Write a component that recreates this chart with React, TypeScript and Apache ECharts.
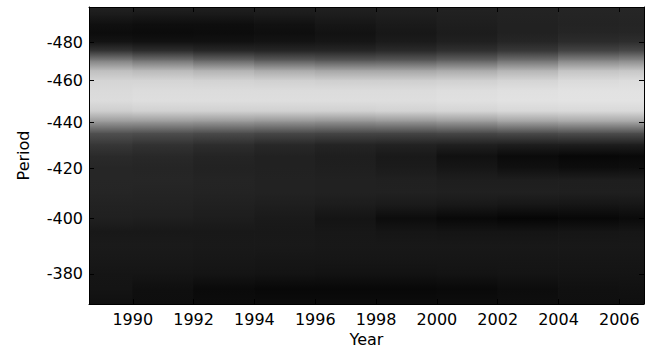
import React, { useEffect, useRef } from "react";
import * as echarts from "echarts";

// Heat-map columns (year centres) and rows (period, in the same units as the axis)
const years = [1989, 1991, 1993, 1995, 1997, 1999, 2001, 2003, 2005, 2007];
const periods = [
  -500, -495, -490, -485, -480, -475, -470, -465, -460, -455, -450, -445, -440,
  -435, -430, -425, -420, -415, -410, -405, -400, -395, -390, -385, -380, -375, -370,
];

// Relative power (0-255 gray scale) for each period row, one value per year column
const intensity: number[][] = [
  [34, 33, 32, 32, 32, 33, 34, 35, 37, 38],
  [26, 24, 24, 26, 28, 30, 32, 34, 36, 37],
  [16, 14, 14, 17, 22, 26, 30, 33, 35, 36],
  [12, 11, 12, 14, 18, 23, 28, 33, 37, 38],
  [20, 18, 18, 20, 22, 27, 32, 38, 44, 46],
  [55, 48, 42, 40, 40, 44, 50, 58, 70, 75],
  [130, 118, 105, 95, 90, 92, 100, 115, 135, 140],
  [190, 185, 178, 170, 165, 165, 170, 180, 195, 198],
  [212, 212, 210, 208, 206, 206, 208, 212, 218, 220],
  [218, 220, 220, 220, 220, 220, 222, 224, 226, 226],
  [220, 222, 222, 222, 222, 222, 224, 226, 227, 227],
  [205, 208, 208, 208, 208, 210, 212, 215, 216, 216],
  [150, 150, 148, 145, 142, 145, 150, 158, 162, 162],
  [80, 78, 75, 72, 70, 70, 72, 75, 78, 78],
  [55, 50, 45, 40, 36, 34, 32, 30, 30, 30],
  [42, 40, 36, 33, 30, 25, 16, 10, 7, 8],
  [38, 37, 34, 33, 31, 27, 22, 16, 13, 14],
  [38, 38, 36, 34, 33, 32, 30, 30, 30, 30],
  [37, 36, 35, 34, 33, 33, 32, 32, 31, 31],
  [34, 34, 32, 30, 28, 26, 24, 22, 21, 22],
  [32, 31, 29, 26, 20, 12, 8, 5, 7, 10],
  [24, 24, 24, 24, 23, 21, 20, 20, 21, 22],
  [26, 26, 25, 25, 24, 24, 24, 24, 24, 24],
  [24, 24, 23, 22, 22, 22, 22, 22, 22, 22],
  [21, 21, 20, 19, 18, 18, 19, 20, 20, 20],
  [20, 15, 10, 8, 8, 8, 9, 12, 16, 17],
  [16, 14, 12, 12, 12, 12, 13, 14, 15, 15],
];

const xTickYears = [1990, 1992, 1994, 1996, 1998, 2000, 2002, 2004, 2006];
const yTickPeriods = [-480, -460, -440, -420, -400, -380];

const X_MIN = 1988.56;
const X_MAX = 2006.81;

const freq = (p: number) => 1 / Math.abs(p);
const gray = (v: number) => {
  const g = Math.max(0, Math.min(255, Math.round(v)));
  return `rgb(${g},${g},${g})`;
};

export default function App() {
  const ref = useRef<HTMLDivElement>(null);

  useEffect(() => {
    if (!ref.current) return;
    const chart = echarts.init(ref.current, null, { renderer: "svg" });

    const data: number[][] = [];
    for (let i = 0; i < periods.length - 1; i++) {
      for (let j = 0; j < years.length; j++) {
        data.push([years[j], (freq(periods[i]) + freq(periods[i + 1])) / 2, i, j]);
      }
    }

    const colEdge = (j: number, side: number) => {
      if (side < 0) {
        return j === 0 ? years[0] - (years[1] - years[0]) / 2 : (years[j - 1] + years[j]) / 2;
      }
      const n = years.length;
      return j === n - 1 ? years[n - 1] + (years[n - 1] - years[n - 2]) / 2 : (years[j] + years[j + 1]) / 2;
    };

    const font = "DejaVu Sans";
    const tickStyle = { color: "#000", width: 1 };

    chart.setOption({
      animation: false,
      backgroundColor: "#fff",
      grid: { left: 89, right: 1, top: 7, bottom: 50, containLabel: false },
      xAxis: [
        {
          type: "value",
          min: X_MIN,
          max: X_MAX,
          position: "bottom",
          z: 10,
          name: "Year",
          nameLocation: "middle",
          nameGap: 26,
          nameTextStyle: { fontFamily: font, fontSize: 16, color: "#000" },
          axisLine: { show: true, onZero: false, lineStyle: { color: "#000", width: 1 } },
          axisTick: { show: true, inside: true, length: 5, customValues: xTickYears, lineStyle: tickStyle },
          axisLabel: {
            show: true,
            customValues: xTickYears,
            margin: 7,
            fontFamily: font,
            fontSize: 16,
            color: "#000",
            formatter: (v: number) => String(Math.round(v)),
          },
          splitLine: { show: false },
        },
        {
          type: "value",
          min: X_MIN,
          max: X_MAX,
          position: "top",
          z: 10,
          axisLine: { show: true, onZero: false, lineStyle: { color: "#000", width: 1 } },
          axisTick: { show: true, inside: true, length: 5, customValues: xTickYears, lineStyle: tickStyle },
          axisLabel: { show: false },
          splitLine: { show: false },
        },
      ],
      yAxis: [
        {
          type: "value",
          min: freq(periods[0]),
          max: freq(periods[periods.length - 1]),
          inverse: true,
          position: "left",
          z: 10,
          name: "Period",
          nameLocation: "middle",
          nameGap: 58,
          nameRotate: 90,
          nameTextStyle: { fontFamily: font, fontSize: 16, color: "#000" },
          axisLine: { show: true, onZero: false, lineStyle: { color: "#000", width: 1 } },
          axisTick: {
            show: true,
            inside: true,
            length: 5,
            customValues: yTickPeriods.map(freq),
            lineStyle: tickStyle,
          },
          axisLabel: {
            show: true,
            customValues: yTickPeriods.map(freq),
            margin: 6,
            fontFamily: font,
            fontSize: 16,
            color: "#000",
            formatter: (v: number) => String(-Math.round(1 / v)),
          },
          splitLine: { show: false },
        },
        {
          type: "value",
          min: freq(periods[0]),
          max: freq(periods[periods.length - 1]),
          inverse: true,
          position: "right",
          z: 10,
          axisLine: { show: true, onZero: false, lineStyle: { color: "#000", width: 1 } },
          axisTick: {
            show: true,
            inside: true,
            length: 5,
            customValues: yTickPeriods.map(freq),
            lineStyle: tickStyle,
          },
          axisLabel: { show: false },
          splitLine: { show: false },
        },
      ],
      series: [
        {
          type: "custom",
          xAxisIndex: 0,
          yAxisIndex: 0,
          clip: true,
          silent: true,
          encode: { x: 0, y: 1 },
          data,
          renderItem: (params: any, api: any) => {
            const i = api.value(2) as number;
            const j = api.value(3) as number;
            const x0 = colEdge(j, -1);
            const x1 = colEdge(j, 1);
            const a = api.coord([x0, freq(periods[i])]);
            const b = api.coord([x1, freq(periods[i + 1])]);
            const topIsA = a[1] <= b[1];
            const vTop = topIsA ? intensity[i][j] : intensity[i + 1][j];
            const vBot = topIsA ? intensity[i + 1][j] : intensity[i][j];
            const left = Math.min(a[0], b[0]);
            const top = Math.min(a[1], b[1]);
            const w = Math.abs(b[0] - a[0]);
            const h = Math.abs(b[1] - a[1]);
            return {
              type: "rect",
              shape: { x: left - 0.4, y: top - 0.4, width: w + 0.8, height: h + 0.8 },
              style: {
                fill: new echarts.graphic.LinearGradient(0, 0, 0, 1, [
                  { offset: 0, color: gray(vTop) },
                  { offset: 1, color: gray(vBot) },
                ]),
              },
            };
          },
        },
      ],
    });

    return () => chart.dispose();
  }, []);

  return (
    <div
      ref={ref}
      style={{ position: "fixed", left: 0, top: 0, width: 645, height: 354 }}
    />
  );
}
